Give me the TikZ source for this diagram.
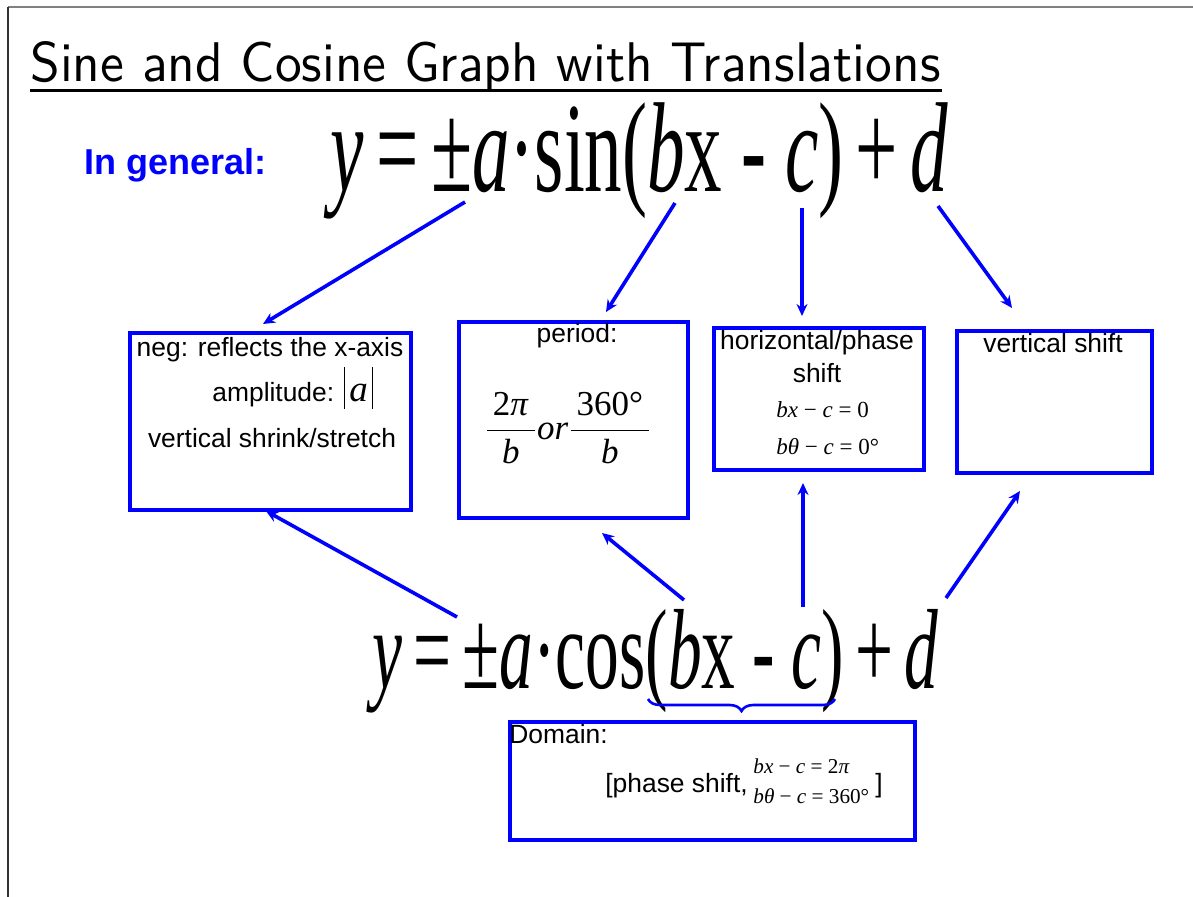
\documentclass[tikz,border=0pt]{standalone}
\usepackage{fontspec}
\setmainfont{Liberation Sans}
\newfontfamily\tnr{Liberation Serif}
\usetikzlibrary{arrows.meta,decorations.pathreplacing}
\newcommand\boxtxt{\fontsize{13.2pt}{15pt}\selectfont}
\newcommand\eqtxt{\fontsize{11.5pt}{13pt}\selectfont\tnr}
\newcommand\deqtxt{\fontsize{10.6pt}{12pt}\selectfont\tnr}
\begin{document}
\begin{tikzpicture}[x=0.5pt,y=-0.5pt,
  bbox/.style={draw=blue, line width=2pt, rectangle, inner sep=0pt},
  arr/.style={blue, line width=1.8pt, -{Stealth[length=6pt,width=5.5pt]}},
  lbl/.style={inner sep=0pt, font=\boxtxt},
  eq/.style={inner sep=0pt, font=\eqtxt},
  deq/.style={inner sep=0pt, font=\deqtxt}]
\useasboundingbox (0,0) rectangle (1193,897);
% page frame
\draw[gray, line width=1.1pt] (8,7) -- (1193,7);
\draw[black!80, line width=0.7pt] (8,7) -- (8,897);
% title
\node[anchor=base west, inner sep=0pt] (title) at (30,82)
  {\resizebox{455pt}{20pt}{\sffamily Sine and Cosine Graph with Translations}};
\draw[line width=1.5pt] (30,91) -- (942,91);
% in general
\node[anchor=base west, inner sep=0pt, text=blue, font=\fontsize{18pt}{20pt}\selectfont\bfseries] (gen) at (84,175) {In general:};
% formulas
\node[anchor=base west, inner sep=0pt] (sinf) at (330,192)
  {\resizebox{309pt}{\height}{\fontsize{64pt}{64pt}\selectfont\tnr \textit{y}\,=\,±\textit{a}·sin(\textit{b}x - \textit{c})\,+\,\textit{d}}};
\node[anchor=base west, inner sep=0pt] (cosf) at (372,688)
  {\resizebox{283pt}{\height}{\fontsize{57pt}{57pt}\selectfont\tnr \textit{y}\,=\,±\textit{a}·cos(\textit{b}x - \textit{c})\,+\,\textit{d}}};
% boxes
\node[bbox, minimum width=140.5pt, minimum height=88.5pt] (boxA) at (270.5,421.5) {};
\node[bbox, minimum width=114.5pt, minimum height=98pt] (boxB) at (573.5,420) {};
\node[bbox, minimum width=105pt, minimum height=71pt] (boxC) at (819,399) {};
\node[bbox, minimum width=97.5pt, minimum height=71pt] (boxD) at (1054.5,402) {};
\node[bbox, minimum width=202.5pt, minimum height=59pt] (boxE) at (712.5,781) {};
% box A text
\node[lbl, anchor=base] (negt) at (270,357) {neg: reflects the x-axis};
\node[lbl, anchor=base west] (ampt) at (212,402) {amplitude: \rule[-3.5pt]{0.5pt}{21pt}\,{\tnr\itshape\fontsize{18.5pt}{18pt}\selectfont a}\,\rule[-3.5pt]{0.5pt}{21pt}};
\node[lbl, anchor=base] (vsst) at (272,448) {vertical shrink/stretch};
% box B text
\node[lbl, anchor=base] (pert) at (577,343) {period:};
\node[inner sep=0pt, font=\fontsize{17.5pt}{19pt}\selectfont\tnr] (perf) at (568,428)
  {$\displaystyle\frac{\mbox{\,2\textit{π}\,}}{\mbox{\textit{b}}}\mbox{\textit{or}}\frac{\mbox{\,360°\,}}{\mbox{\textit{b}}}$};
% box C text
\node[lbl, anchor=base] (hpt1) at (817,350) {horizontal/phase};
\node[lbl, anchor=base] (hpt2) at (817,383) {shift};
\node[eq, anchor=base west] (hpe1) at (776,418) {\textit{bx} − \textit{c} = 0};
\node[eq, anchor=base west] (hpe2) at (776,455) {\textit{bθ} − \textit{c} = 0°};
% box D text
\node[lbl, anchor=base] (vst) at (1053,353) {vertical shift};
% domain box text
\node[lbl, anchor=base west] (domt) at (509,743) {Domain:};
\node[lbl, anchor=base west] (phs) at (605,792) {[phase shift,};
\node[deq, anchor=base west] (dme1) at (753,773) {\textit{bx} − \textit{c} = 2\textit{π}};
\node[deq, anchor=base west] (dme2) at (753,803) {\textit{bθ} − \textit{c} = 360°};
\node[lbl, anchor=base west] (rbr) at (875,792) {]};
% brace
\coordinate (braceR) at (835,699);
\coordinate (braceL) at (648,699);
\draw[blue, line width=1.3pt, decorate, decoration={brace, amplitude=6pt}] (braceR) -- (braceL);
% arrow end points
\coordinate (t1) at (465,202); \coordinate (h1) at (263,324);
\coordinate (t2) at (675,203); \coordinate (h2) at (606,312);
\coordinate (t3) at (802,208); \coordinate (h3) at (802,316);
\coordinate (t4) at (938,206); \coordinate (h4) at (1012,308);
\coordinate (t5) at (457,617); \coordinate (h5) at (266,511);
\coordinate (t6) at (684,600); \coordinate (h6) at (602,533);
\coordinate (t7) at (803,607); \coordinate (h7) at (803,483);
\coordinate (t8) at (946,598); \coordinate (h8) at (1020,491);
\foreach \i in {1,...,8} {\draw[arr] (t\i) -- (h\i);}
\end{tikzpicture}
\end{document}
